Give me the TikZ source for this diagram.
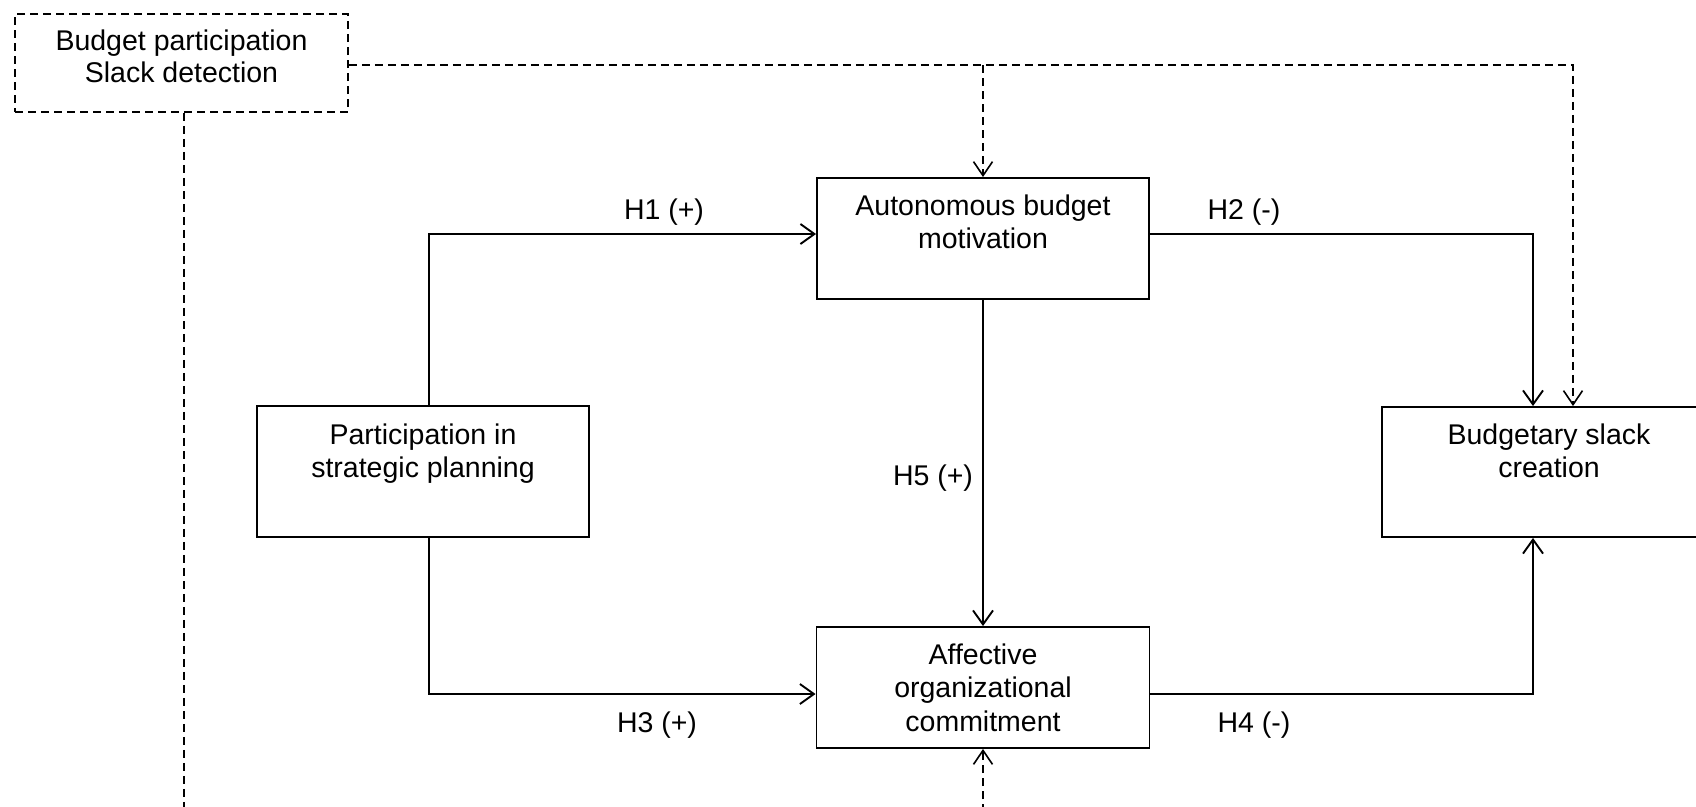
\documentclass[tikz,border=0pt]{standalone}
\usepackage{fontspec}
\setmainfont{Liberation Sans}
\usetikzlibrary{arrows.meta}
\begin{document}
\begin{tikzpicture}[x=1pt, y=-1pt,
  box/.style={draw=black, line width=1.9pt, inner sep=0pt},
  ctrlbox/.style={box, line width=1.6pt, dash pattern=on 8pt off 5pt},
  boxtext/.style={inner sep=0pt, anchor=north, align=center,
    font=\fontsize{28.5}{33.5}\selectfont},
  hyp/.style={inner sep=0pt, anchor=base, font=\fontsize{28.5}{33.5}\selectfont},
  link/.style={line width=1.9pt, -{Straight Barb[length=14pt,width=20pt]}},
  modline/.style={line width=1.6pt, dash pattern=on 8pt off 5pt},
  modlink/.style={modline, -{Straight Barb[length=14pt,width=19pt]}}
]
\clip (0,0) rectangle (1696,806);

% control variables
\node[ctrlbox, minimum width=333pt, minimum height=98pt] (ctrl) at (181.5,63) {};
\node[boxtext, font=\fontsize{28.5}{32}\selectfont] (ctrlt) at (181.5,29.6)
  {Budget participation\\Slack detection};

% constructs
\node[box, minimum width=332pt, minimum height=121pt] (auto) at (983,238.5) {};
\node[boxtext] (autot) at (983,194.6) {Autonomous budget\\motivation};

\node[box, minimum width=332pt, minimum height=131pt] (part) at (423,471.5) {};
\node[boxtext] (partt) at (423,423.6) {Participation in\\strategic planning};

\node[box, minimum width=334pt, minimum height=130pt] (slack) at (1549,472) {};
\node[boxtext] (slackt) at (1549,423.6) {Budgetary slack\\creation};

\node[box, minimum width=333pt, minimum height=121pt] (affect) at (983,687.5) {};
\node[boxtext] (affectt) at (983,643.6) {Affective\\organizational\\commitment};

% hypothesised paths
\draw[link] ([xshift=6pt]part.north) |- ([yshift=4.5pt]auto.west);
\draw[link] ([yshift=4.5pt]auto.east) -| ([xshift=-16pt]slack.north);
\draw[link] (auto.south) -- (affect.north);
\draw[link] ([xshift=6pt]part.south) |- ([yshift=-6.5pt]affect.west);
\draw[link] ([yshift=-6.5pt]affect.east) -| ([xshift=-16pt]slack.south);

\node[hyp] (h1) at (664,219) {H1 (+)};
\node[hyp] (h2) at (1244,219) {H2 (-)};
\node[hyp] (h5) at (933,485) {H5 (+)};
\node[hyp] (h3) at (657,732) {H3 (+)};
\node[hyp] (h4) at (1254,732) {H4 (-)};

% control links
\coordinate (cline) at ([yshift=-2pt]ctrl.east);
\draw[modlink] (cline) -| ([xshift=24pt]slack.north);
\draw[modlink] (cline -| auto.north) -- (auto.north);
\coordinate (leftend) at (184,812);
\draw[modline] ([xshift=2.5pt]ctrl.south) -- (leftend);
\coordinate (midend) at (983,812);
\draw[modlink] (midend) -- (affect.south);
\end{tikzpicture}
\end{document}
